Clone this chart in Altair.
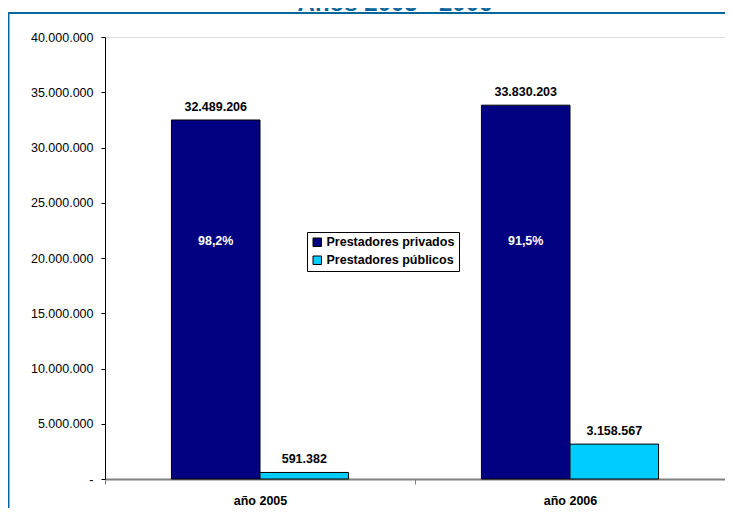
import altair as alt
import pandas as pd

categories = ["año 2005", "año 2006"]
series = ["Prestadores privados", "Prestadores públicos"]
privados = [32489206, 33830203]
publicos = [591382, 3158567]
pct_labels = ["98,2%", "91,5%"]
title_text = "Años 2005 - 2006"

rows = []
for i, c in enumerate(categories):
    rows.append({"cat": c, "serie": series[0], "valor": privados[i]})
    rows.append({"cat": c, "serie": series[1], "valor": publicos[i]})
df = pd.DataFrame(rows)
df_pct = pd.DataFrame({"cat": categories, "serie": [series[0]] * 2, "pct": pct_labels})

FONT = "Liberation Sans"
FRAME = "#08679A"
FS = 12.5

x_enc = alt.X("cat:N", sort=categories, title=None,
              scale=alt.Scale(paddingInner=0, paddingOuter=0),
              axis=alt.Axis(labelAngle=0, tickBand="extent", domainColor="#808080",
                            domainWidth=2, tickColor="#808080", tickWidth=1, tickSize=5,
                            labelFontWeight="bold", labelFontSize=FS, labelPadding=10,
                            labelColor="black", labelFont=FONT))
xo_enc = alt.XOffset("serie:N", sort=series,
                     scale=alt.Scale(domain=series, paddingInner=0, paddingOuter=0.75))
y_scale = alt.Scale(domain=[0, 40000000], nice=False)

bars = alt.Chart(df).mark_bar(stroke="black", strokeWidth=1).encode(
    x=x_enc,
    xOffset=xo_enc,
    y=alt.Y("valor:Q", scale=y_scale, title=None,
            axis=alt.Axis(values=list(range(0, 40000001, 5000000)), format=",d",
                          labelExpr="datum.value == 0 ? '-\u00a0\u00a0\u00a0\u00a0\u00a0' : datum.label",
                          grid=False, domainColor="black", tickColor="black",
                          tickSize=4, labelFontSize=FS, labelColor="black",
                          labelFont=FONT, labelPadding=8)),
    color=alt.Color("serie:N", sort=series,
                    scale=alt.Scale(domain=series, range=["#000080", "#00CCFF"]),
                    legend=alt.Legend(title=None, orient="none", legendX=202, legendY=195,
                                      strokeColor="black", fillColor="white", padding=4,
                                      labelFontWeight="bold", labelFontSize=FS,
                                      labelFont=FONT, labelColor="black",
                                      symbolType="square", symbolSize=72,
                                      symbolStrokeColor="black", symbolStrokeWidth=1,
                                      rowPadding=5, symbolOffset=0, labelOffset=3)),
)

vals = alt.Chart(df).mark_text(baseline="bottom", dy=-6, fontWeight="bold",
                               fontSize=FS, font=FONT, color="black").encode(
    x=alt.X("cat:N", sort=categories),
    xOffset=alt.XOffset("serie:N", sort=series),
    y=alt.Y("valor:Q", scale=y_scale),
    text=alt.Text("valor:Q", format=",d"),
)

pct = alt.Chart(df_pct).mark_text(baseline="middle", fontWeight="bold",
                                  fontSize=FS, font=FONT, color="white").encode(
    x=alt.X("cat:N", sort=categories),
    xOffset=alt.XOffset("serie:N", sort=series),
    y=alt.YDatum(21500000, scale=y_scale),
    text="pct:N",
)

decor = alt.Data(values=[{"k": 1}])
frame_top = alt.Chart(decor).mark_rule(stroke=FRAME, strokeWidth=2).encode(
    x=alt.value(-97), x2=alt.value(628), y=alt.value(-24))
frame_left = alt.Chart(decor).mark_rule(stroke=FRAME, strokeWidth=2).encode(
    x=alt.value(-96.5), y=alt.value(-25), y2=alt.value(479))

title = alt.Chart(alt.Data(values=[{"t": title_text}])).mark_text(
    font=FONT, fontSize=24, fontWeight="bold", color=FRAME,
    align="center", baseline="alphabetic").encode(
    x=alt.value(290), y=alt.value(-26.5), text="t:N")

chart = alt.layer(frame_top, frame_left, title, bars, vals, pct).properties(
    width=620, height=442, autosize="none",
    padding={"left": 97, "top": 29, "right": 0, "bottom": 29},
    background="white",
).configure_view(stroke=None).configure(
    locale={"number": {"decimal": ",", "thousands": ".", "grouping": [3],
                       "currency": ["$", ""]}}
)

chart.save("out.html", embed_options={"renderer": "svg", "actions": False})
